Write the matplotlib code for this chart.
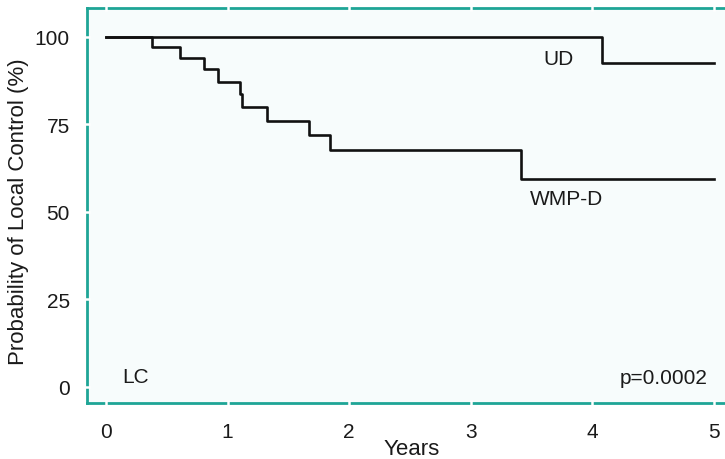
import matplotlib.pyplot as plt

# Kaplan-Meier step data
ud_years = [0, 4.08, 5.0]
ud_prob = [100, 92.5, 92.5]

wmp_years = [0, 0.38, 0.61, 0.81, 0.92, 1.10, 1.12, 1.32, 1.67, 1.84, 3.41, 5.0]
wmp_prob = [100, 97, 93.9, 90.9, 87.2, 83.7, 79.8, 75.8, 72, 67.7, 59.3, 59.3]

x_ticks = [0, 1, 2, 3, 4, 5]
y_ticks = [0, 25, 50, 75, 100]

teal = "#1ea596"
ink = "#1a1a1a"
plt.rcParams['font.family'] = ['Liberation Sans', 'DejaVu Sans']

fig = plt.figure(figsize=(7.25, 4.6), dpi=100)
fig.patch.set_facecolor("white")
ax = fig.add_axes([0.12, 0.1217, 0.88, 0.858])
ax.set_facecolor("#f7fcfc")

ax.step(ud_years, ud_prob, where="post", color="#111111", lw=1.9, zorder=3)
ax.step(wmp_years, wmp_prob, where="post", color="#111111", lw=1.9, zorder=3)

ax.set_xlim(-0.156, 5.09)
ax.set_ylim(-4.6, 108.1)
ax.set_xticks(x_ticks)
ax.set_yticks(y_ticks)

for name, sp in ax.spines.items():
    sp.set_color(teal)
    sp.set_linewidth(2)
    sp.set_zorder(1)
ax.spines["right"].set_visible(False)

ax.tick_params(axis="both", direction="inout", length=5, width=1.8, color="white",
               labelsize=15, pad=10, labelcolor=ink)
ax.tick_params(axis="x", top=True, pad=11)

ax.set_xlabel("Years", fontsize=16, color=ink)
ax.xaxis.set_label_coords((412 - 87) / 638, -(449 - 404) / 394.7, transform=ax.transAxes)
ax.xaxis.label.set_va("center")
ax.set_ylabel("Probability of Local Control (%)", fontsize=16, color=ink)
ax.yaxis.set_label_coords(-(87 - 19) / 638, (404 - 212) / 394.7, transform=ax.transAxes)
ax.yaxis.label.set_va("center")

ax.text(3.72, 93.7, "UD", fontsize=15, color=ink, ha="center", va="center")
ax.text(3.79, 53.7, "WMP-D", fontsize=15, color=ink, ha="center", va="center")
ax.text(0.13, 2.9, "LC", fontsize=15, color=ink, ha="left", va="center")
ax.text(4.95, 2.6, "p=0.0002", fontsize=15, color=ink, ha="right", va="center")

fig.savefig("out.png", dpi=100)
